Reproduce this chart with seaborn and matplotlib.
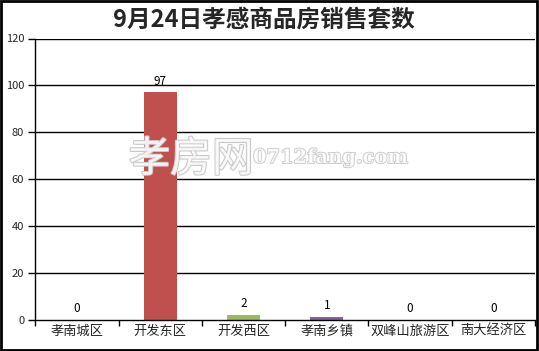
import matplotlib
matplotlib.use("Agg")
import matplotlib.pyplot as plt
import matplotlib.patheffects as pe
import seaborn as sns
import pandas as pd

categories = ["孝南城区", "开发东区", "开发西区", "孝南乡镇", "双峰山旅游区", "南大经济区"]
values = [0, 97, 2, 1, 0, 0]
colors = ["#4F81BD", "#C0504D", "#9BBB59", "#8064A2", "#4BACC6", "#F79646"]
title = "9月24日孝感商品房销售套数"
yticks = [0, 20, 40, 60, 80, 100, 120]

sns.set_style("white")
plt.rcParams['font.family'] = ['Noto Sans CJK SC', 'DejaVu Sans']

W, H = 539, 351
fig = plt.figure(figsize=(W / 100, H / 100), dpi=100)
L, R, T, B = 35.3, 535, 38.5, 319.5
ax = fig.add_axes([L / W, (H - B) / H, (R - L) / W, (B - T) / H])

df = pd.DataFrame({"cat": categories, "val": values})
sns.barplot(data=df, x="cat", y="val", hue="cat", palette=colors, width=0.40,
            legend=False, ax=ax, saturation=1, linewidth=0)

ax.set_ylim(0, 120)
ax.set_xlim(-0.5, len(categories) - 0.5)
ax.set_yticks(yticks)
ax.set_yticklabels([str(t) for t in yticks], fontsize=8)
for t in yticks[1:]:
    ax.axhline(t, color="black", lw=1, zorder=0)

ax.set_xticks([i - 0.5 for i in range(len(categories) + 1)])
ax.set_xticklabels([])
ax.set_xticks(range(len(categories)), minor=True)
ax.set_xticklabels(categories, minor=True, fontsize=9.5)
ax.tick_params(axis="x", which="major", length=4, width=1, color="black", direction="out", bottom=True)
ax.tick_params(axis="x", which="minor", length=0, pad=4)
ax.tick_params(axis="y", length=5, width=1, color="black", direction="out", left=True, pad=3)
ax.set_xlabel("")
ax.set_ylabel("")

for s in ["top", "right"]:
    ax.spines[s].set_visible(False)
for s in ["left", "bottom"]:
    ax.spines[s].set_color("black")
    ax.spines[s].set_linewidth(1)

for i, v in enumerate(values):
    ax.text(i, v + 2, str(v), ha="center", va="bottom", fontsize=8.5, color="black")

# watermark
fig.text(191 / W, 1 - 160 / H, "孝房网", fontsize=30, color=(1, 1, 1, 0.55), ha="center", va="center",
         path_effects=[pe.withStroke(linewidth=1.5, foreground="#c8c8c8"), pe.Normal()], zorder=5)
fig.text(253 / W, 1 - 158 / H, "0712fang.com", fontsize=14, color=(1, 1, 1, 0.55), ha="left", va="center",
         family="DejaVu Serif", fontweight="bold",
         path_effects=[pe.withStroke(linewidth=1.2, foreground="#c8c8c8"), pe.Normal()], zorder=5)

fig.text(263.5 / W, 1 - 20 / H, title, fontsize=17, fontweight="bold", ha="center", va="center")

fig.patches.append(plt.Rectangle((0.002, 0.003), 0.995, 0.994, transform=fig.transFigure,
                                 fill=False, edgecolor="black", lw=2))

fig.savefig("out.png", dpi=100)
